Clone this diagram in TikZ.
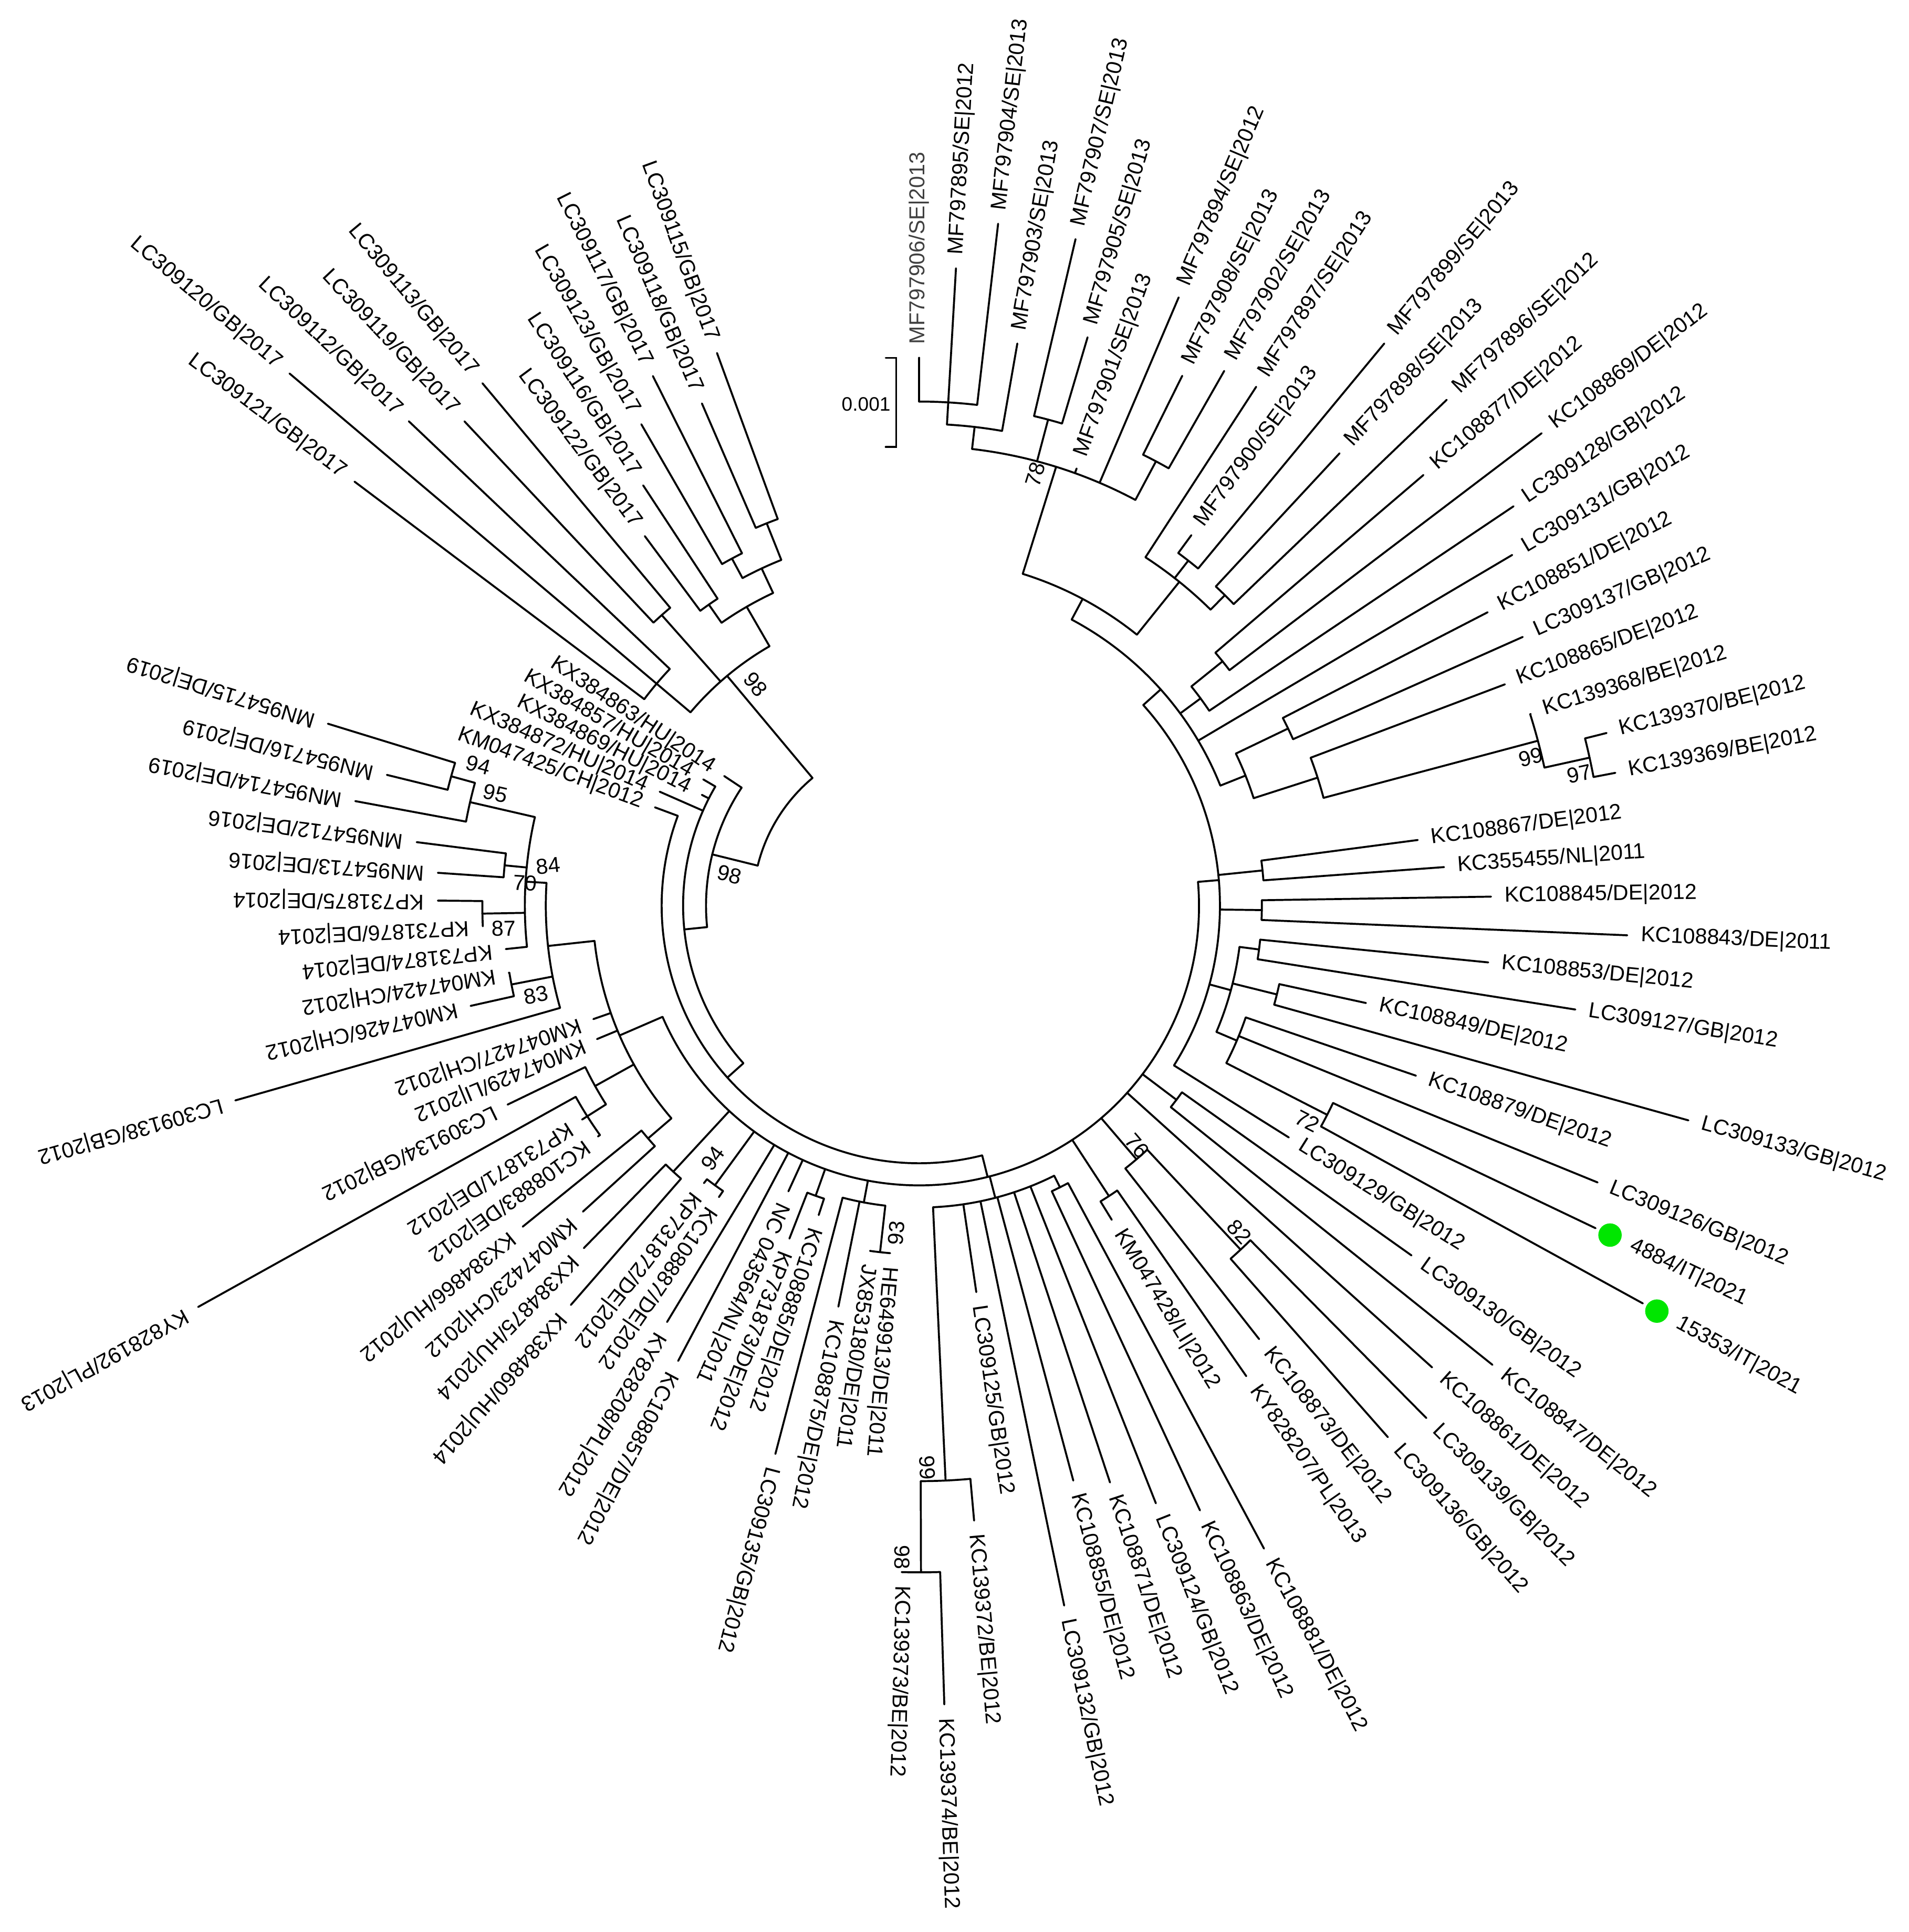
\documentclass[tikz,border=0pt]{standalone}
\usepackage{fontspec}
\setmainfont{Liberation Sans}
\definecolor{dotgreen}{HTML}{00E600}
\tikzset{
  br/.style={line width=0.9pt, line cap=round},
  lab/.style={font=\fontsize{10}{12}\selectfont, inner sep=1pt},
  bsv/.style={font=\fontsize{10}{12}\selectfont, inner sep=0pt},
}
% leaf: index, base radius, tip radius, label (radii in px, 1px = 0.02cm)
\newcommand{\lf}[4]{%
  \pgfmathsetmacro\tL{90-3.3*#1}
  \draw[br] (\tL:{#2*0.02}) -- (\tL:{#3*0.02});
  \node[lab, rotate=\tL, anchor=west] (leaf#1) at (\tL:{(#3+9)*0.02}) {#4};}
% leaf with flipped label (upper left)
\newcommand{\lfr}[4]{%
  \pgfmathsetmacro\tL{90-3.3*#1}
  \draw[br] (\tL:{#2*0.02}) -- (\tL:{#3*0.02});
  \node[lab, rotate=\tL+180, anchor=east] (leaf#1) at (\tL:{(#3+9)*0.02}) {#4};}
% leaf with green dot
\newcommand{\lfd}[4]{%
  \pgfmathsetmacro\tL{90-3.3*#1}
  \draw[br] (\tL:{#2*0.02}) -- (\tL:{#3*0.02});
  \fill[dotgreen] (\tL:{(#3+13)*0.02}) circle[radius=0.19];
  \node[lab, rotate=\tL, anchor=west] (leaf#1) at (\tL:{(#3+30)*0.02}) {#4};}
% inner node: first child, last child, radius, parent radius
\newcommand{\nd}[4]{%
  \pgfmathsetmacro\tA{90-3.3*#1}
  \pgfmathsetmacro\tB{90-3.3*#2}
  \pgfmathsetmacro\tM{90-3.3*(#1+#2)/2}
  \draw[br] (\tA:{#3*0.02}) arc[start angle=\tA, end angle=\tB, radius={#3*0.02}];
  \draw[br] (\tM:{#4*0.02}) -- (\tM:{#3*0.02});}

\begin{document}
\begin{tikzpicture}
\useasboundingbox (-14.92,-16.66) rectangle (16.06,14.70);

% inner nodes
\nd{0}{2}{409}{391}
\nd{1}{3}{391}{373}
\nd{4}{5}{408}{373}
\nd{8}{9}{408.5}{373}
\nd{2}{8.5}{373}{282}
\nd{11}{12}{355}{337}
\nd{13}{14}{353.5}{337}
\nd{10}{13.5}{337}{282}
\nd{5.25}{11.75}{282}{263}
\nd{15}{16}{316}{283.5}
\nd{15.5}{17}{283.5}{263}
\nd{19}{20}{332}{285}
\nd{23}{24}{557}{519.5}
\nd{22}{23.5}{519.5}{339.5}
\nd{21}{22.75}{339.5}{285}
\nd{19.5}{21.875}{285}{263}
\nd{8.5}{20.6875}{263}{244}
\nd{25}{26}{280}{244}
\nd{27}{28}{278}{244}
\nd{29}{30}{278}{262}
\nd{31}{32}{299}{262}
\nd{35}{36}{372}{280}
\nd{33}{35.5}{280}{262}
\nd{29.5}{34.25}{262}{244}
\nd{14.59375}{37}{244}{227}
\nd{38}{39}{261.5}{227}
\nd{41}{42}{382}{271}
\nd{41.5}{43}{271}{227}
\nd{44}{45}{281.5}{227}
\nd{46}{47}{255.5}{245}
\nd{54}{55}{541}{467}
\nd{53}{54.5}{467}{245}
\nd{46.5}{53.75}{245}{227}
\nd{56}{57}{283}{245}
\nd{56.5}{59}{245}{227}
\nd{60}{61}{250}{227}
\nd{65}{66}{281}{227}
\nd{67}{68}{294}{227}
\nd{69}{70}{290}{265}
\nd{71}{73}{319}{301}
\nd{72}{74}{301}{265}
\nd{78}{79}{337}{303}
\nd{81}{82}{354.5}{320}
\nd{83}{84}{338}{320}
\nd{86}{87}{394}{374}
\nd{85}{86.5}{374}{320}
\nd{80}{85.75}{320}{303}
\nd{77}{82.875}{303}{265}
\nd{69.5}{79.9375}{265}{227}
\nd{25.796875}{74.71875}{227}{209}
\nd{50.2578}{88}{209}{191.6}
\nd{69.1289}{91}{191.6}{173}
\nd{80.0645}{92}{173}{135}
\nd{93}{95}{279}{243}
\nd{96}{97}{315}{243}
\nd{98}{99}{298}{280}
\nd{100}{101}{320}{302}
\nd{102}{103}{334}{302}
\nd{100.5}{102.5}{302}{280}
\nd{98.5}{101.5}{280}{243}
\nd{94}{100}{243}{135}
\nd{86.032}{97}{135}{135}

% leaves
\lf{0}{409}{444.5}{\color{black!75}MF797906/SE|2013}
\lf{1}{409}{518}{MF797895/SE|2012}
\lf{2}{409}{557}{MF797904/SE|2013}
\lf{3}{391}{463}{MF797903/SE|2013}
\lf{4}{408}{555.5}{MF797907/SE|2013}
\lf{5}{408}{481}{MF797905/SE|2013}
\lf{6}{373}{377}{MF797901/SE|2013}
\lf{7}{373}{536.6}{MF797894/SE|2012}
\lf{8}{408.5}{480}{MF797908/SE|2013}
\lf{9}{408.5}{499.5}{MF797902/SE|2013}
\lf{10}{337}{502}{MF797897/SE|2013}
\lf{11}{355}{373}{MF797900/SE|2013}
\lf{12}{355}{592}{MF797899/SE|2013}
\lf{13}{353.5}{501}{MF797898/SE|2013}
\lf{14}{353.5}{593}{MF797896/SE|2012}
\lf{15}{316}{538}{KC108877/DE|2012}
\lf{16}{316}{634}{KC108869/DE|2012}
\lf{17}{283.5}{581}{LC309128/GB|2012}
\lf{18}{263}{559}{LC309131/GB|2012}
\lf{19}{332}{519}{KC108851/DE|2012}
\lf{20}{332}{536}{LC309137/GB|2012}
\lf{21}{339.5}{508}{KC108865/DE|2012}
\lf{22}{519.5}{520}{KC139368/BE|2012}
\lf{23}{557}{575}{KC139370/BE|2012}
\lf{24}{557}{575}{KC139369/BE|2012}
\lf{25}{280}{408}{KC108867/DE|2012}
\lf{26}{280}{427}{KC355455/NL|2011}
\lf{27}{278}{464}{KC108845/DE|2012}
\lf{28}{278}{575}{KC108843/DE|2011}
\lf{29}{278}{464}{KC108853/DE|2012}
\lf{30}{278}{539}{LC309127/GB|2012}
\lf{31}{299}{371}{KC108849/DE|2012}
\lf{32}{299}{648}{LC309133/GB|2012}
\lf{33}{280}{426}{KC108879/DE|2012}
\lf{34}{280}{594.5}{LC309126/GB|2012}
\lfd{35}{372}{608}{4884/IT|2021}
\lfd{36}{372}{670}{15353/IT|2021}
\lf{37}{244}{354}{LC309129/GB|2012}
\lf{38}{261.5}{490}{LC309130/GB|2012}
\lf{39}{261.5}{596}{KC108847/DE|2012}
\lf{40}{227}{560}{KC108861/DE|2012}
\lf{41}{382}{585}{LC309139/GB|2012}
\lf{42}{382}{575}{LC309136/GB|2012}
\lf{43}{271}{447}{KC108873/DE|2012}
\lf{44}{281.5}{465}{KY828207/PL|2013}
\lf{45}{281.5}{299}{KM047428/LI|2012}
\lf{46}{255.5}{592}{KC108881/DE|2012}
\lf{47}{255.5}{541}{KC108863/DE|2012}
\lf{48}{245}{521.6}{LC309124/GB|2012}
\lf{49}{245}{493}{KC108871/DE|2012}
\lf{50}{245}{483}{KC108855/DE|2012}
\lf{51}{245}{580}{LC309132/GB|2012}
\lf{52}{245}{317}{LC309125/GB|2012}
\lf{53}{467}{501}{KC139372/BE|2012}
\lf{54}{541}{648.5}{KC139374/BE|2012}
\lf{55}{541}{541}{KC139373/BE|2012}
\lf{56}{283}{283}{HE649913/DE|2011}
\lf{57}{283}{283}{JX853180/DE|2011}
\lf{58}{245}{332}{KC108875/DE|2012}
\lf{59}{245}{460}{LC309135/GB|2012}
\lf{60}{250}{264}{KC108885/DE|2012}
\lf{61}{250}{290}{KP731873/DE|2012}
\lf{62}{227}{255}{NC 043564/NL|2011}
\lf{63}{227}{418}{KC108857/DE|2012}
\lf{64}{227}{395}{KY828208/PL|2012}
\lf{65}{281}{287}{KC108887/DE|2012}
\lf{66}{281}{285}{KP731872/DE|2012}
\lf{67}{294}{430}{KX384860/HU|2014}
\lf{68}{294}{389}{KX384875/HU|2014}
\lf{69}{290}{369}{KM047423/CH|2012}
\lf{70}{290}{414}{KX384866/HU|2012}
\lf{71}{319}{321}{KC108883/DE|2012}
\lf{72}{319}{324}{KP731871/DE|2012}
\lf{73}{319}{669.6}{KY828192/PL|2013}
\lf{74}{301}{371}{LC309134/GB|2012}
\lf{75}{265}{283}{KM047429/LI|2012}
\lf{76}{265}{280}{KM047427/CH|2012}
\lf{77}{303}{577}{LC309138/GB|2012}
\lf{78}{337}{373}{KM047426/CH|2012}
\lf{79}{337}{337.5}{KM047424/CH|2012}
\lf{80}{320}{337.3}{KP731874/DE|2014}
\lf{81}{354.5}{354.5}{KP731876/DE|2014}
\lf{82}{354.5}{390.6}{KP731875/DE|2014}
\lf{83}{338}{391.5}{MN954713/DE|2016}
\lf{84}{338}{411}{MN954712/DE|2016}
\lf{85}{374}{465.4}{MN954714/DE|2019}
\lf{86}{394}{444.8}{MN954716/DE|2019}
\lf{87}{394}{502}{MN954715/DE|2019}
\lfr{88}{209}{228.8}{KM047425/CH|2012}
\lfr{89}{191.6}{230}{KX384872/HU|2014}
\lfr{90}{191.6}{198}{KX384869/HU|2014}
\lfr{91}{191.6}{203}{KX384857/HU|2014}
\lfr{92}{173}{190}{KX384863/HU|2014}
\lfr{93}{279}{573}{LC309121/GB|2017}
\lfr{94}{279}{669}{LC309120/GB|2017}
\lfr{95}{279}{571}{LC309112/GB|2017}
\lfr{96}{315}{539}{LC309119/GB|2017}
\lfr{97}{315}{552.5}{LC309113/GB|2017}
\lfr{98}{298}{373.5}{LC309122/GB|2017}
\lfr{99}{298}{408}{LC309116/GB|2017}
\lfr{100}{320}{451}{LC309123/GB|2017}
\lfr{101}{320}{481}{LC309117/GB|2017}
\lfr{102}{334}{444}{LC309118/GB|2017}
\lfr{103}{334}{477.5}{LC309115/GB|2017}

% bootstrap values
\node[bsv, rotate=72.7] (b78) at (1.884,7.0) {78};
\node[bsv, rotate=-50.1] (b98g) at (-2.656,3.592) {98};
\node[bsv, rotate=-13.9] (b98a) at (-3.078,0.504) {98};
\node[bsv, rotate=14.9] (b99r) at (9.926,2.406) {99};
\node[bsv, rotate=12.4] (b97) at (10.712,2.136) {97};
\node[bsv, rotate=-27.2] (b72) at (6.3,-3.5) {72};
\node[bsv, rotate=-47] (b82) at (5.192,-5.298) {82};
\node[bsv, rotate=-49.4] (b76) at (3.536,-3.9) {76};
\node[bsv, rotate=83.5] (b93) at (-0.372,-5.312) {93};
\node[bsv, rotate=-87.4] (b99b) at (0.128,-9.12) {99};
\node[bsv, rotate=-89.8] (b98b) at (-0.28,-10.58) {98};
\node[bsv, rotate=53.8] (b94b) at (-3.35,-4.104) {94};
\node[bsv, rotate=11] (b83) at (-6.22,-1.452) {83};
\node[bsv, rotate=1] (b87) at (-6.742,-0.372) {87};
\node[bsv, rotate=-3.5] (b70) at (-6.398,0.366) {70};
\node[bsv, rotate=6.2] (b84) at (-6.02,0.648) {84};
\node[bsv, rotate=-13] (b95) at (-6.88,1.82) {95};
\node[bsv, rotate=-15.4] (b94l) at (-7.156,2.28) {94};

% scale bar
\coordinate (sbtop) at (-0.374,8.89);
\coordinate (sbbot) at (-0.374,7.444);
\draw[br] ([xshift=-0.17cm]sbtop) -- (sbtop) -- (sbbot) -- ([xshift=-0.17cm]sbbot);
\node[font=\fontsize{9}{11}\selectfont, inner sep=0pt, anchor=east] (sblab) at (-0.46,8.14) {0.001};
\end{tikzpicture}
\end{document}
